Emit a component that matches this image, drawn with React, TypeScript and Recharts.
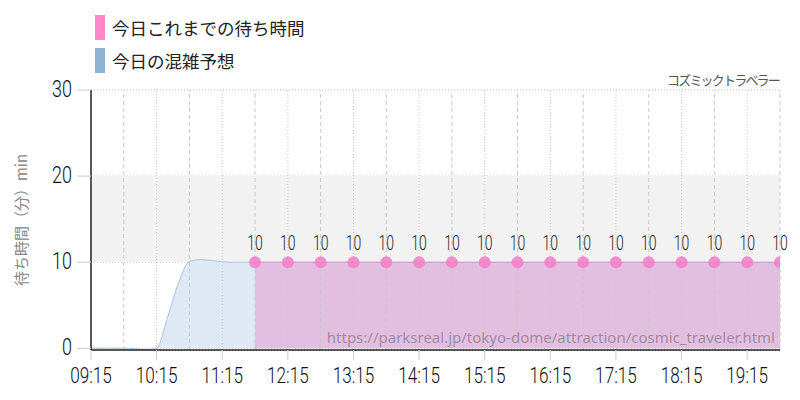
import {
  Area,
  CartesianGrid,
  ComposedChart,
  LabelList,
  ReferenceArea,
  ReferenceLine,
  XAxis,
  YAxis,
} from 'recharts';

// 今日の混雑予想（青）
const predTimes = [
  '09:15', '09:25', '09:35', '09:45', '09:55', '10:05', '10:15', '10:25',
  '10:35', '10:45', '10:55', '11:05', '11:15', '11:25', '11:35', '11:45',
];
const predValues = [0, 0, 0, 0, -0.05, -0.2, 0, 3.6, 7.6, 10.1, 10.3, 10.2, 10.05, 10, 10, 10];

// 今日これまでの待ち時間（ピンク）
const actualTimes = [
  '11:45', '12:15', '12:45', '13:15', '13:45', '14:15', '14:45', '15:15', '15:45',
  '16:15', '16:45', '17:15', '17:45', '18:15', '18:45', '19:15', '19:45',
];
const actualValues = [10, 10, 10, 10, 10, 10, 10, 10, 10, 10, 10, 10, 10, 10, 10, 10, 10];

const xTickLabels = [
  '09:15', '10:15', '11:15', '12:15', '13:15', '14:15', '15:15', '16:15', '17:15', '18:15', '19:15',
];
const halfHourLabels = [
  '09:45', '10:45', '11:45', '12:45', '13:45', '14:45', '15:45', '16:45', '17:45', '18:45', '19:45',
];
const yTicks = [0, 10, 20, 30];

const toMin = (s: string) => {
  const [h, m] = s.split(':').map(Number);
  return h * 60 + m;
};
const fmt = (v: number) =>
  `${String(Math.floor(v / 60)).padStart(2, '0')}:${String(v % 60).padStart(2, '0')}`;

const predData = predTimes.map((t, i) => ({ t: toMin(t), v: predValues[i] }));
const actualData = actualTimes.map((t, i) => ({ t: toMin(t), v: actualValues[i] }));

const numFont = 'Roboto, sans-serif';
const jpFont = '"Noto Sans CJK JP", sans-serif';

function XTick({ x, y, payload }: any) {
  return (
    <text
      transform={`translate(${x},${y + 21}) scale(0.78,1)`}
      textAnchor="middle"
      fontSize={22}
      fontWeight={300}
      fontFamily={numFont}
      fill="#111"
    >
      {fmt(payload.value)}
    </text>
  );
}

function YTick({ x, y, payload }: any) {
  return (
    <text
      transform={`translate(${x - 3},${y + 7}) scale(0.78,1)`}
      textAnchor="end"
      fontSize={23}
      fontWeight={300}
      fontFamily={numFont}
      fill="#111"
    >
      {payload.value}
    </text>
  );
}

function DotLabel({ x, y, value }: any) {
  return (
    <text
      transform={`translate(${x},${y - 12}) scale(0.7,1)`}
      textAnchor="middle"
      fontSize={20}
      fontWeight={300}
      fontFamily={numFont}
      fill="#222"
    >
      {value}
    </text>
  );
}

export default function App() {
  return (
    <div
      style={{
        position: 'absolute',
        left: 0,
        top: 0,
        width: 800,
        height: 400,
        background: '#fff',
      }}
    >
      <ComposedChart width={800} height={400} margin={{ top: 90, right: 20, bottom: 0, left: 0 }}>
        <ReferenceArea y1={10} y2={20} fill="#f2f2f2" fillOpacity={1} stroke="none" />
        <CartesianGrid vertical={false} stroke="#bbb" strokeDasharray="1 2" />
        <XAxis
          type="number"
          dataKey="t"
          domain={[toMin('09:15'), toMin('19:45')]}
          ticks={xTickLabels.map(toMin)}
          tick={<XTick />}
          tickLine={{ stroke: '#ccc' }}
          tickSize={10}
          axisLine={{ stroke: '#222', strokeWidth: 1.5 }}
          height={50}
          allowDataOverflow
        />
        <YAxis
          domain={[0, 30]}
          ticks={yTicks}
          tick={<YTick />}
          tickLine={{ stroke: '#ccc' }}
          tickSize={14}
          axisLine={{ stroke: '#222', strokeWidth: 1.5 }}
          width={91}
          label={{
            value: '待ち時間（分）min',
            angle: -90,
            position: 'insideLeft',
            offset: 22,
            style: { fontSize: 15, fill: '#888', fontFamily: jpFont, textAnchor: 'middle' },
          }}
        />
        <Area
          data={predData}
          dataKey="v"
          type="monotone"
          stroke="#a9c3de"
          strokeWidth={1}
          fill="#dfe9f3"
          fillOpacity={1}
          isAnimationActive={false}
        />
        <Area
          data={actualData}
          dataKey="v"
          type="linear"
          stroke="#c890c8"
          strokeWidth={1}
          fill="#e2bfe0"
          fillOpacity={1}
          dot={{ r: 6, fill: '#f57ec8', fillOpacity: 0.85, stroke: 'none' }}
          isAnimationActive={false}
        >
          <LabelList dataKey="v" content={<DotLabel />} />
        </Area>
        {xTickLabels.slice(1).map((t) => (
          <ReferenceLine key={t} x={toMin(t)} stroke="#c8c8c8" strokeDasharray="1 2" />
        ))}
        {halfHourLabels.map((t) => (
          <ReferenceLine key={t} x={toMin(t)} stroke="#c8c8c8" strokeDasharray="4 3" />
        ))}
      </ComposedChart>
      <div style={{ position: 'absolute', left: 95, top: 15, display: 'flex', alignItems: 'center' }}>
        <div style={{ width: 10, height: 25, background: '#ff88cc' }} />
        <span style={{ marginLeft: 7, fontFamily: jpFont, fontSize: 17.5, color: '#222' }}>
          今日これまでの待ち時間
        </span>
      </div>
      <div style={{ position: 'absolute', left: 95, top: 48, display: 'flex', alignItems: 'center' }}>
        <div style={{ width: 10, height: 25, background: '#8fb3d1' }} />
        <span style={{ marginLeft: 7, fontFamily: jpFont, fontSize: 17.5, color: '#222' }}>
          今日の混雑予想
        </span>
      </div>
      <div
        style={{
          position: 'absolute',
          right: 21,
          top: 70,
          fontFamily: jpFont,
          fontSize: 13,
          letterSpacing: -1.8,
          color: '#555',
        }}
      >
        コズミックトラベラー
      </div>
      <div
        style={{
          position: 'absolute',
          right: 25,
          top: 327,
          fontFamily: '"Noto Sans", sans-serif',
          fontSize: 15,
          color: 'rgba(70,70,70,0.45)',
          whiteSpace: 'nowrap',
        }}
      >
        https://parksreal.jp/tokyo-dome/attraction/cosmic_traveler.html
      </div>
    </div>
  );
}
